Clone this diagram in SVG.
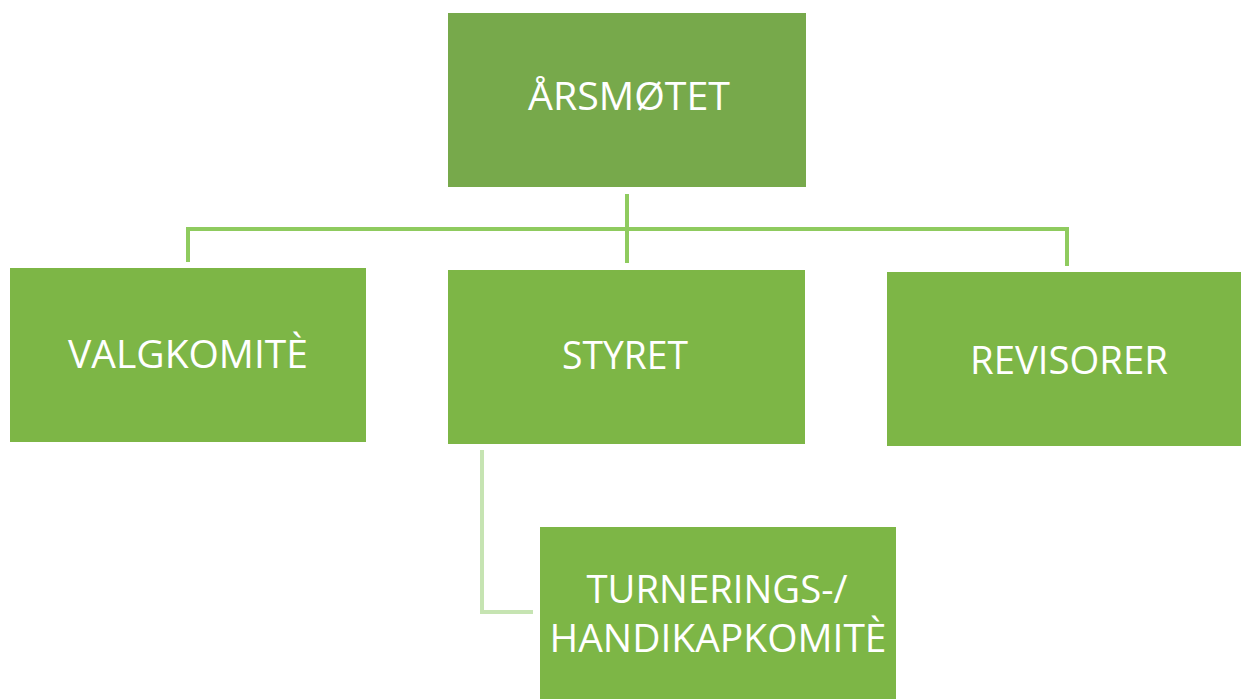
<svg xmlns="http://www.w3.org/2000/svg" width="1248" height="699" viewBox="0 0 1248 699">
<style>
.box{fill:#7db646}
.top{fill:#77a94b}
.lbl{font-family:"Open Sans","Liberation Sans",sans-serif;font-size:37.5px;fill:#ffffff;text-anchor:middle}
.conn{fill:none;stroke:#8fcb5f;stroke-width:4}
.conn2{fill:none;stroke:#c6e4b2;stroke-width:4}
</style>
<rect width="1248" height="699" fill="#ffffff"/>
<g id="connectors">
<path class="conn" d="M627 194 V263"/>
<path class="conn" d="M188 262 V229 H1067 V266"/>
<path class="conn2" d="M482 450 V612 H533"/>
</g>
<g id="arsmotet">
<rect class="top" x="448" y="13" width="358" height="174"/>
<text class="lbl" x="629" y="110" textLength="202" lengthAdjust="spacingAndGlyphs">ÅRSMØTET</text>
</g>
<g id="valgkomite">
<rect class="box" x="10" y="268" width="356" height="174"/>
<text class="lbl" x="188" y="368" textLength="240" lengthAdjust="spacingAndGlyphs">VALGKOMITÈ</text>
</g>
<g id="styret">
<rect class="box" x="448" y="270" width="357" height="174"/>
<text class="lbl" x="625" y="369" textLength="126" lengthAdjust="spacingAndGlyphs">STYRET</text>
</g>
<g id="revisorer">
<rect class="box" x="887" y="272" width="354" height="174"/>
<text class="lbl" x="1069" y="374" textLength="198" lengthAdjust="spacingAndGlyphs">REVISORER</text>
</g>
<g id="turnering">
<rect class="box" x="540" y="527" width="356" height="180"/>
<text class="lbl" x="717" y="603" textLength="261" lengthAdjust="spacingAndGlyphs">TURNERINGS-/</text>
<text class="lbl" x="718" y="652" textLength="337" lengthAdjust="spacingAndGlyphs">HANDIKAPKOMITÈ</text>
</g>
</svg>
